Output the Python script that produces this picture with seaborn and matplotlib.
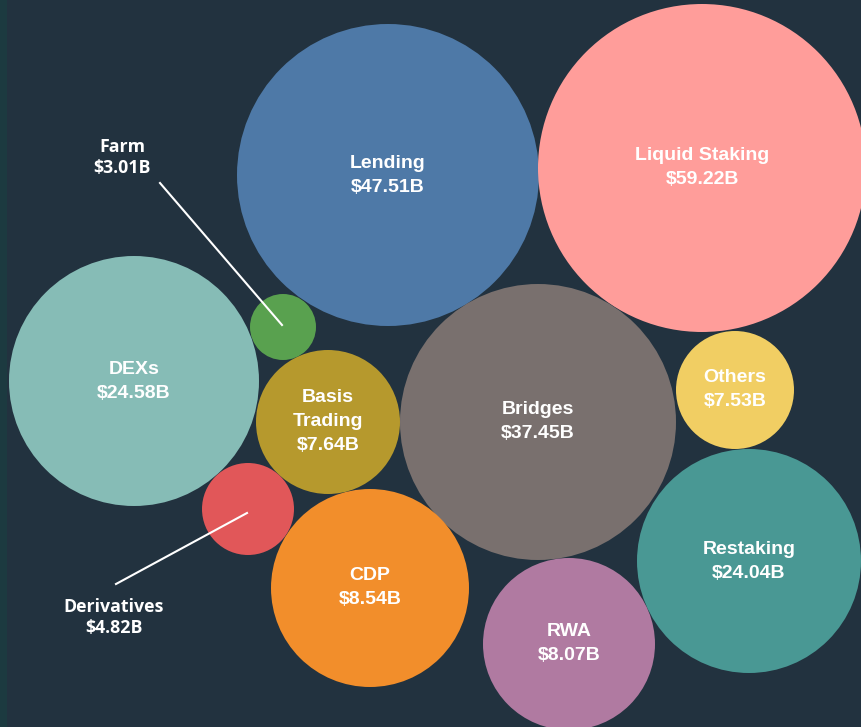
import matplotlib
matplotlib.use("Agg")
import matplotlib.pyplot as plt
import seaborn as sns
import pandas as pd

# --- data ---
categories = ["Lending", "Liquid Staking", "Bridges", "DEXs", "Others", "Restaking",
              "RWA", "CDP", "Basis Trading", "Derivatives", "Farm"]
tvl_billions = [47.51, 59.22, 37.45, 24.58, 7.53, 24.04, 8.07, 8.54, 7.64, 4.82, 3.01]
colors = ["#4e79a7", "#ff9d9a", "#79706e", "#86bcb6", "#f1ce63", "#499894",
          "#b07aa1", "#f28e2b", "#b6992d", "#e15759", "#59a14f"]

# --- packed layout (pixel space) ---
center_x = [388, 702, 538, 134, 735, 749, 569, 370, 328, 248, 283]
center_y = [175, 168, 422, 381, 390, 561, 644, 588, 422, 509, 327]
radius_px = [151, 164, 138, 125, 59, 112, 86, 99, 72, 46, 33]

# small bubbles get an outside label with a leader line
outside = {"Farm": ((122, 157), (160, 183)), "Derivatives": ((114, 617), (116, 584))}

BG = "#22323f"
W, H, DPI = 862, 727, 100

df = pd.DataFrame({"category": categories, "tvl": tvl_billions,
                   "x": center_x, "y": center_y, "r": radius_px})
df["label"] = [f"${v:.2f}B" for v in df["tvl"]]

fig = plt.figure(figsize=(W / DPI, H / DPI), dpi=DPI, facecolor=BG)
ax = fig.add_axes([0, 0, 1, 1])
ax.set_facecolor(BG)
ax.axvspan(0, 7, color="#1c3a40", lw=0, zorder=0)

# marker size in points^2 so that the diameter matches 2*r pixels
sizes = {c: (2 * r * 72 / DPI) ** 2 for c, r in zip(categories, radius_px)}
sns.scatterplot(data=df, x="x", y="y", hue="category", palette=dict(zip(categories, colors)),
                size="category", sizes=sizes, linewidth=0, legend=False, ax=ax, zorder=2)

inner_font = dict(family="Liberation Sans", weight="bold", size=14, color="white",
                  ha="center", va="center", zorder=4)
outer_font = dict(family="Open Sans", weight="bold", size=12.8, color="white",
                  ha="center", va="center", zorder=4)

for _, row in df.iterrows():
    if row["category"] in outside:
        (tx, ty), (lx, ly) = outside[row["category"]]
        ax.text(tx, ty - 10.5, row["category"], **outer_font)
        ax.text(tx, ty + 10.5, row["label"], **outer_font)
        ax.plot([lx, row["x"] - 1], [ly, row["y"] + (-2 if ly < row["y"] else 4)],
                color="white", lw=1.5, zorder=3)
        continue
    lines = row["category"].split(" ") if row["category"] == "Basis Trading" else [row["category"]]
    lines = lines + [row["label"]]
    n = len(lines)
    for i, txt in enumerate(lines):
        ax.text(row["x"], row["y"] + (i - (n - 1) / 2) * 24, txt, **inner_font)

ax.set_xlim(0, W)
ax.set_ylim(H, 0)
ax.axis("off")
fig.savefig("out.png", dpi=DPI, facecolor=BG)
